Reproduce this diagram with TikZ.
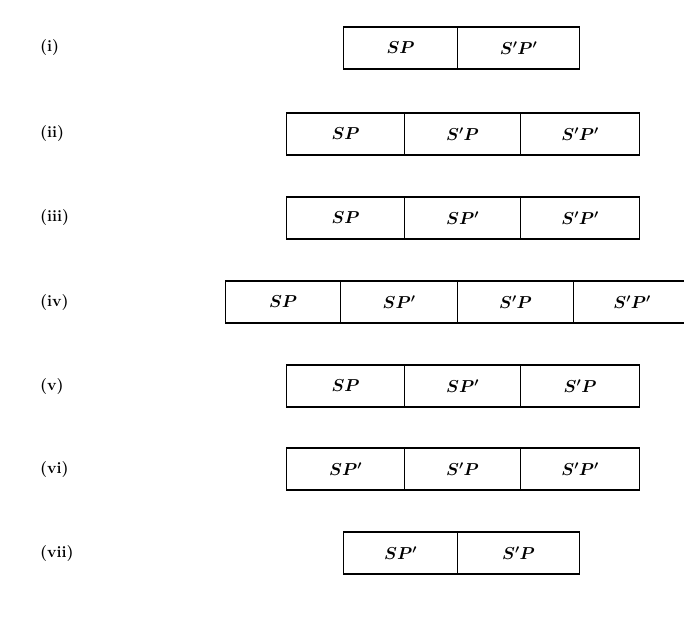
\documentclass[tikz,border=0pt]{standalone}
\begin{document}
\begin{tikzpicture}[x=1pt,y=-1pt,
  cell/.style={draw, line width=1.2pt, minimum height=42pt, inner sep=0pt,
    anchor=west, font=\fontsize{18}{20}\selectfont\boldmath},
  lab/.style={anchor=west, inner sep=0pt, font=\fontsize{16}{18}\selectfont\bfseries}]
\useasboundingbox (0,0) rectangle (684,635);

% row labels
\node[lab] (l1) at (40,48)  {(i)};
\node[lab] (l2) at (40,134) {(ii)};
\node[lab] (l3) at (40,218) {(iii)};
\node[lab] (l4) at (40,302) {(iv)};
\node[lab] (l5) at (40,386) {(v)};
\node[lab] (l6) at (40,469) {(vi)};
\node[lab] (l7) at (40,553) {(vii)};

% (i)
\node[cell, minimum width=114pt] (a1) at (343,48) {$SP$};
\node[cell, minimum width=122pt] (a2) at (457,48) {$S'P'$};

% (ii)
\node[cell, minimum width=118pt] (b1) at (286,134) {$SP$};
\node[cell, minimum width=116pt] (b2) at (404,134) {$S'P$};
\node[cell, minimum width=119pt] (b3) at (520,134) {$S'P'$};

% (iii)
\node[cell, minimum width=118pt] (c1) at (286,218) {$SP$};
\node[cell, minimum width=116pt] (c2) at (404,218) {$SP'$};
\node[cell, minimum width=119pt] (c3) at (520,218) {$S'P'$};

% (iv) runs past the right edge
\node[cell, minimum width=115pt] (d1) at (225,302) {$SP$};
\node[cell, minimum width=117pt] (d2) at (340,302) {$SP'$};
\node[cell, minimum width=116pt] (d3) at (457,302) {$S'P$};
\node[cell, minimum width=117pt] (d4) at (573,302) {$S'P'$};

% (v)
\node[cell, minimum width=118pt] (e1) at (286,386) {$SP$};
\node[cell, minimum width=116pt] (e2) at (404,386) {$SP'$};
\node[cell, minimum width=119pt] (e3) at (520,386) {$S'P$};

% (vi)
\node[cell, minimum width=118pt] (f1) at (286,469) {$SP'$};
\node[cell, minimum width=116pt] (f2) at (404,469) {$S'P$};
\node[cell, minimum width=119pt] (f3) at (520,469) {$S'P'$};

% (vii)
\node[cell, minimum width=114pt] (g1) at (343,553) {$SP'$};
\node[cell, minimum width=122pt] (g2) at (457,553) {$S'P$};
\end{tikzpicture}
\end{document}
